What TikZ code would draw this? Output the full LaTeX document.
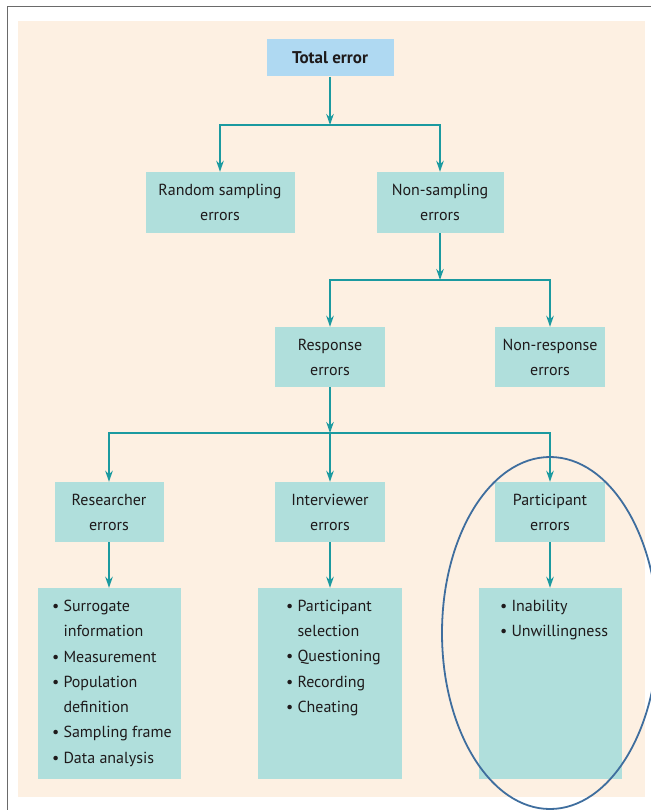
\documentclass[tikz,border=0pt]{standalone}
\usepackage{fontspec}
\setmainfont{PT Sans}
\usetikzlibrary{arrows.meta}
\definecolor{cream}{HTML}{FDF0E2}
\definecolor{boxteal}{HTML}{B0DFDC}
\definecolor{topblue}{HTML}{AFD9F2}
\definecolor{linkteal}{HTML}{1B9AA0}
\definecolor{ringblue}{HTML}{3F6E9E}
\definecolor{framegray}{HTML}{6A6A6A}
\definecolor{inktext}{HTML}{1E1A1B}
\tikzset{
  errbox/.style={fill=boxteal, inner sep=0pt, align=center, text=inktext,
    font=\fontsize{16}{25}\selectfont},
  listbox/.style={fill=boxteal, inner sep=0pt},
  listtext/.style={anchor=north west, inner sep=0pt, align=left, text=inktext,
    font=\fontsize{16}{25.3}\selectfont},
  link/.style={draw=linkteal, line width=2pt,
    -{Stealth[length=11pt,width=7.5pt]}},
}
\newcommand{\bul}{\textbullet\ }
\newcommand{\ind}{\phantom{\textbullet\ }}
\begin{document}
\begin{tikzpicture}[x=1pt,y=-1pt]
  \useasboundingbox (0,0) rectangle (650,810);
  % page frame and panel
  \draw[framegray, line width=0.8pt] (7,6) rectangle (680,840);
  \fill[cream] (18,21) rectangle (645,797);

  % tree boxes
  \node[errbox, fill=topblue, minimum width=127pt, minimum height=37pt,
        font=\fontsize{17}{20}\selectfont\bfseries] (total) at (330,58) {Total error};
  \node[errbox, minimum width=149pt, minimum height=61pt] (rand) at (220,202.5) {Random sampling\\errors};
  \node[errbox, minimum width=127pt, minimum height=61pt] (nons) at (440,202.5) {Non-sampling\\errors};
  \node[errbox, minimum width=110pt, minimum height=60pt] (resp) at (330,357) {Response\\errors};
  \node[errbox, minimum width=110pt, minimum height=60pt] (nonr) at (550,357) {Non-response\\errors};
  \node[errbox, minimum width=109pt, minimum height=60pt] (rese) at (109,512) {Researcher\\errors};
  \node[errbox, minimum width=110pt, minimum height=60pt] (intv) at (330,512) {Interviewer\\errors};
  \node[errbox, minimum width=110pt, minimum height=60pt] (part) at (550,512) {Participant\\errors};

  % list boxes
  \node[listbox, minimum width=143pt, minimum height=191pt] (rlist) at (109.5,683.5) {};
  \node[listbox, minimum width=144pt, minimum height=191pt] (ilist) at (330,683.5) {};
  \node[listbox, minimum width=143pt, minimum height=191pt] (plist) at (550.5,683.5) {};

  \node[listtext] (rtext) at ([xshift=14pt,yshift=-12pt]rlist.north west)
    {\bul Surrogate\\\ind information\\\bul Measurement\\\bul Population\\\ind definition\\\bul Sampling frame\\\bul Data analysis};
  \node[listtext] (itext) at ([xshift=28pt,yshift=-12pt]ilist.north west)
    {\bul Participant\\\ind selection\\\bul Questioning\\\bul Recording\\\bul Cheating};
  \node[listtext] (ptext) at ([xshift=21pt,yshift=-12pt]plist.north west)
    {\bul Inability\\\bul Unwillingness};

  % junction points of the connectors
  \coordinate (j1) at (total.south |- 0,125);
  \coordinate (j2) at (nons.south |- 0,280);
  \coordinate (j3) at (resp.south |- 0,433);

  % connectors
  \draw[link] (total.south) -- (j1);
  \draw[link] (j1) -| (rand.north);
  \draw[link] (j1) -| (nons.north);

  \draw[link] (nons.south) -- (j2);
  \draw[link] (j2) -| (resp.north);
  \draw[link] (j2) -| (nonr.north);

  \draw[link] (resp.south) -- (j3);
  \draw[link] (j3) -| (rese.north);
  \draw[link] (j3) -- (intv.north);
  \draw[link] (j3) -| (part.north);

  \draw[link] (rese.south) -- (rese.south |- rlist.north);
  \draw[link] (intv.south) -- (ilist.north);
  \draw[link] (part.south) -- (part.south |- plist.north);

  % highlight ring
  \draw[ringblue, line width=1.8pt] (550,633) ellipse [x radius=108pt, y radius=176pt];
\end{tikzpicture}
\end{document}
